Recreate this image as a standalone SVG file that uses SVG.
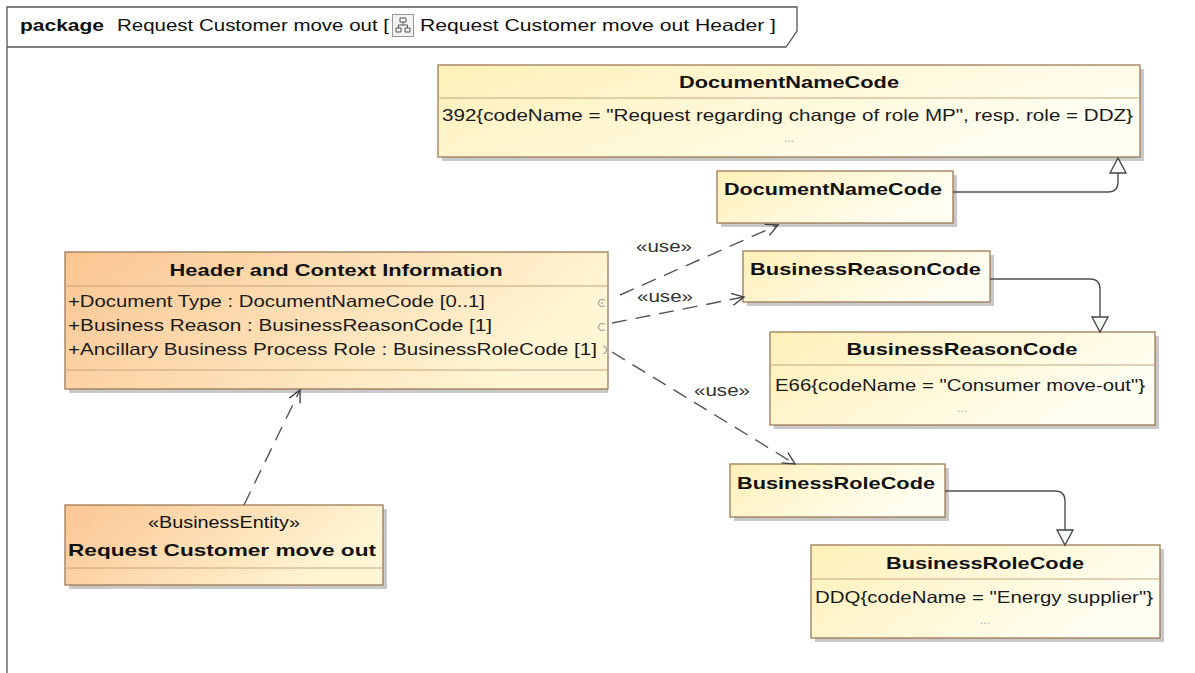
<svg xmlns="http://www.w3.org/2000/svg" width="1195" height="673" viewBox="0 0 1195 673">
<style>
text{font-family:"Liberation Sans",Arial,sans-serif;fill:#111}
.t{font-size:17px;font-weight:bold}
.a{font-size:16.5px;fill:#1a1a1a}
.dots{font-size:12px;fill:#aaa}
.use{font-size:16px;fill:#333}
.box{stroke:#9c7a55;stroke-width:1.3}
.sep{stroke:#c4a47f;stroke-width:1}
.sh{fill:#c8c8c8}
.dep{fill:none;stroke:#555;stroke-width:1.4;stroke-dasharray:15 9}
.gen{fill:none;stroke:#505050;stroke-width:1.4}
.ic{fill:none;stroke:#a8a8a8;stroke-width:1.2}
</style>
<defs>
<linearGradient id="gy" x1="0" y1="0" x2="1" y2="0.4">
<stop offset="0" stop-color="#fff0b8"/><stop offset="1" stop-color="#fffff2"/>
</linearGradient>
<linearGradient id="go" x1="0" y1="0" x2="1" y2="0.3">
<stop offset="0" stop-color="#fbc592"/><stop offset="1" stop-color="#fff6d4"/>
</linearGradient>
<marker id="open" markerUnits="userSpaceOnUse" markerWidth="16" markerHeight="16" viewBox="0 0 16 16" refX="14" refY="8" orient="auto">
<path d="M2,2 L14,8 L2,14" fill="none" stroke="#444" stroke-width="1.4"/>
</marker>
<marker id="tri" markerUnits="userSpaceOnUse" markerWidth="18" markerHeight="18" viewBox="0 0 18 18" refX="16" refY="9" orient="auto">
<path d="M1,1 L16,9 L1,17 z" fill="#f4faf4" stroke="#444" stroke-width="1.3"/>
</marker>
</defs>
<rect width="1195" height="673" fill="#fff"/>

<g id="frame">
<path d="M7,673 V7 H797 V31 L786,47 H7" fill="none" stroke="#555" stroke-width="1.3"/>
<text x="20" y="31" class="t" textLength="84" lengthAdjust="spacingAndGlyphs">package</text>
<text x="117" y="31" style="font-size:16.5px" textLength="272" lengthAdjust="spacingAndGlyphs">Request Customer move out [</text>
<rect x="392.5" y="14.5" width="21" height="22" fill="#f2f2f2" stroke="#999"/>
<path d="M400,18 h6 v4 h-6 z M396,28 h5 v4 h-5 z M405,28 h5 v4 h-5 z M403,22 v3 M398.5,25 h9 M398.5,25 v3 M407.5,25 v3" fill="none" stroke="#555" stroke-width="1"/>
<text x="420" y="31" style="font-size:16.5px" textLength="356" lengthAdjust="spacingAndGlyphs">Request Customer move out Header ]</text>
</g>

<g id="DocumentNameCodeEnum">
<rect class="sh" x="442" y="69" width="702" height="92"/>
<rect class="box" x="438" y="65" width="702" height="92" fill="url(#gy)"/>
<line class="sep" x1="438" y1="98" x2="1140" y2="98"/>
<text x="789" y="88" class="t" text-anchor="middle" textLength="220" lengthAdjust="spacingAndGlyphs">DocumentNameCode</text>
<text x="442" y="121" class="a" textLength="691" lengthAdjust="spacingAndGlyphs">392{codeName = "Request regarding change of role MP", resp. role = DDZ}</text>
<text x="789" y="142" class="dots" text-anchor="middle">...</text>
</g>

<g id="DocumentNameCode">
<rect class="sh" x="721" y="175" width="236" height="52"/>
<rect class="box" x="717" y="171" width="236" height="52" fill="url(#gy)"/>
<text x="724" y="195" class="t" textLength="218" lengthAdjust="spacingAndGlyphs">DocumentNameCode</text>
</g>

<g id="BusinessReasonCode">
<rect class="sh" x="747" y="255" width="247" height="51"/>
<rect class="box" x="743" y="251" width="247" height="51" fill="url(#gy)"/>
<text x="750" y="275" class="t" textLength="231" lengthAdjust="spacingAndGlyphs">BusinessReasonCode</text>
</g>

<g id="BusinessReasonCodeEnum">
<rect class="sh" x="774" y="336" width="385" height="93"/>
<rect class="box" x="770" y="332" width="385" height="93" fill="url(#gy)"/>
<line class="sep" x1="770" y1="365" x2="1155" y2="365"/>
<text x="962" y="355" class="t" text-anchor="middle" textLength="231" lengthAdjust="spacingAndGlyphs">BusinessReasonCode</text>
<text x="775" y="391" class="a" textLength="370" lengthAdjust="spacingAndGlyphs">E66{codeName = "Consumer move-out"}</text>
<text x="962" y="412" class="dots" text-anchor="middle">...</text>
</g>

<g id="BusinessRoleCode">
<rect class="sh" x="734" y="468" width="215" height="53"/>
<rect class="box" x="730" y="464" width="215" height="53" fill="url(#gy)"/>
<text x="737" y="489" class="t" textLength="198" lengthAdjust="spacingAndGlyphs">BusinessRoleCode</text>
</g>

<g id="BusinessRoleCodeEnum">
<rect class="sh" x="815" y="549" width="349" height="93"/>
<rect class="box" x="811" y="545" width="349" height="93" fill="url(#gy)"/>
<line class="sep" x1="811" y1="579" x2="1160" y2="579"/>
<text x="985" y="569" class="t" text-anchor="middle" textLength="198" lengthAdjust="spacingAndGlyphs">BusinessRoleCode</text>
<text x="815" y="603" class="a" textLength="338" lengthAdjust="spacingAndGlyphs">DDQ{codeName = "Energy supplier"}</text>
<text x="985" y="624" class="dots" text-anchor="middle">...</text>
</g>

<g id="HeaderContext">
<rect class="sh" x="69" y="256" width="539" height="137"/>
<rect class="box" x="65" y="252" width="543" height="137" fill="url(#go)"/>
<line class="sep" x1="65" y1="286" x2="608" y2="286"/>
<line class="sep" x1="65" y1="370" x2="608" y2="370"/>
<text x="336" y="276" class="t" text-anchor="middle" textLength="333" lengthAdjust="spacingAndGlyphs">Header and Context Information</text>
<text x="68" y="307" class="a" textLength="417" lengthAdjust="spacingAndGlyphs">+Document Type : DocumentNameCode [0..1]</text>
<text x="68" y="331" class="a" textLength="424" lengthAdjust="spacingAndGlyphs">+Business Reason : BusinessReasonCode [1]</text>
<text x="68" y="355" class="a" textLength="529" lengthAdjust="spacingAndGlyphs">+Ancillary Business Process Role : BusinessRoleCode [1]</text>
<path class="ic" d="M604.5,300.5 A3.5,3.5 0 1 0 604.5,305.5"/>
<circle cx="602" cy="303" r="1" fill="#a8a8a8"/>
<path class="ic" d="M604.5,324.5 A3.5,3.5 0 1 0 604.5,329.5"/>
<path class="ic" d="M603,346.5 A3.5,3.5 0 1 1 603,353.5"/>
</g>

<g id="RequestCustomerMoveOut">
<rect class="sh" x="69" y="509" width="318" height="80"/>
<rect class="box" x="65" y="505" width="318" height="80" fill="url(#go)"/>
<line class="sep" x1="65" y1="568" x2="383" y2="568"/>
<text x="224" y="528" style="font-size:16.5px" text-anchor="middle" textLength="152" lengthAdjust="spacingAndGlyphs">«BusinessEntity»</text>
<text x="222" y="556" class="t" text-anchor="middle" textLength="308" lengthAdjust="spacingAndGlyphs">Request Customer move out</text>
</g>

<g id="connectors">
<path class="gen" d="M953,192 H1108 Q1118,192 1118,182 V158" marker-end="url(#tri)"/>
<path class="gen" d="M990,279 H1090 Q1100,279 1100,289 V332" marker-end="url(#tri)"/>
<path class="gen" d="M945,491 H1055 Q1065,491 1065,501 V545" marker-end="url(#tri)"/>
<path class="dep" d="M620,295 L778,225" marker-end="url(#open)"/>
<path class="dep" d="M612,323 L744,297" marker-end="url(#open)"/>
<path class="dep" d="M612,352 L795,464" marker-end="url(#open)"/>
<path class="dep" d="M244,505 L300,390" marker-end="url(#open)"/>
<text x="636" y="252" class="use" textLength="56" lengthAdjust="spacingAndGlyphs">«use»</text>
<text x="637" y="302" class="use" textLength="56" lengthAdjust="spacingAndGlyphs">«use»</text>
<text x="694" y="396" class="use" textLength="56" lengthAdjust="spacingAndGlyphs">«use»</text>
</g>
</svg>
